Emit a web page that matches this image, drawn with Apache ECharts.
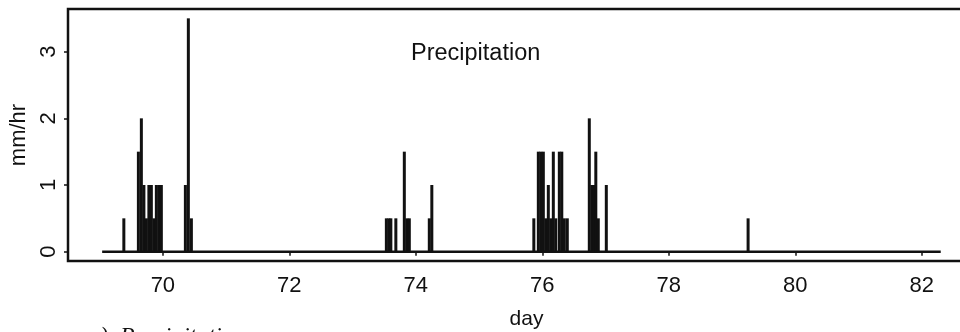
<!DOCTYPE html>
<html>
<head>
<meta charset="utf-8">
<script src="https://cdn.jsdelivr.net/npm/echarts@6/dist/echarts.min.js"></script>
<style>
  html, body { margin: 0; padding: 0; background: #fff; overflow: hidden; }
  #chart { width: 960px; height: 332px; }
</style>
</head>
<body>
<div id="chart"></div>
<script>
// Hourly precipitation rate (mm/hr) against day of year; only non-zero hours listed.
const rainDay = [
  69.383, 69.613, 69.660, 69.700, 69.739, 69.779, 69.818, 69.858, 69.897, 69.937, 69.976,
  70.356, 70.403, 70.451,
  73.534, 73.573, 73.605, 73.684, 73.818, 73.858, 73.897, 74.213, 74.253,
  75.866, 75.937, 75.976, 76.016, 76.055, 76.095, 76.134, 76.174, 76.213, 76.269, 76.308, 76.348, 76.395,
  76.743, 76.783, 76.814, 76.846, 76.885, 77.012,
  79.254
];
const rainRate = [
  0.5, 1.5, 2.0, 1.0, 0.5, 1.0, 1.0, 0.5, 1.0, 1.0, 1.0,
  1.0, 3.5, 0.5,
  0.5, 0.5, 0.5, 0.5, 1.5, 0.5, 0.5, 0.5, 1.0,
  0.5, 1.5, 1.5, 1.5, 0.5, 1.0, 0.5, 1.5, 0.5, 1.5, 1.5, 0.5, 0.5,
  2.0, 1.0, 1.0, 1.5, 0.5, 1.0,
  0.5
];
// Record span: the zero line runs the full length of the series.
const recordStart = 69.04;
const recordEnd = 82.3;

const dayTicks = [70, 72, 74, 76, 78, 80, 82];
const rateTicks = [0, 1, 2, 3];
const dayRange = [68.5, 83.0];
const rateRange = [-0.14, 3.64];

const ink = '#111';
const sans = '"Liberation Sans", Arial, Helvetica, sans-serif';

const chart = echarts.init(document.getElementById('chart'), null, { renderer: 'canvas' });

chart.setOption({
  backgroundColor: '#fff',
  animation: false,
  grid: {
    left: 68, top: 9, width: 917, height: 252,
    outerBoundsMode: 'none',
    containLabel: false,
    show: true, borderColor: ink, borderWidth: 2.5, backgroundColor: 'transparent'
  },
  title: {
    text: 'Precipitation',
    left: 406, top: 37,
    textStyle: { fontFamily: sans, fontSize: 23.5, fontWeight: 'normal', color: ink }
  },
  xAxis: {
    type: 'value',
    min: dayRange[0], max: dayRange[1],
    name: 'day',
    nameLocation: 'middle',
    nameGap: 48,
    nameTextStyle: { fontFamily: sans, fontSize: 21, color: ink },
    axisLine: { show: false },
    splitLine: { show: false },
    axisTick: { show: true, length: 4, customValues: dayTicks, lineStyle: { color: ink, width: 1.5 } },
    axisLabel: { customValues: dayTicks, margin: 14, fontFamily: sans, fontSize: 22, color: ink }
  },
  yAxis: {
    type: 'value',
    min: rateRange[0], max: rateRange[1],
    name: 'mm/hr',
    nameLocation: 'middle',
    nameRotate: 90,
    nameGap: 35,
    nameTextStyle: { fontFamily: sans, fontSize: 22, color: ink },
    axisLine: { show: false },
    splitLine: { show: false },
    axisTick: { show: true, length: 4, customValues: rateTicks, lineStyle: { color: ink, width: 1.5 } },
    axisLabel: { customValues: rateTicks, rotate: 90, margin: 8, fontFamily: sans, fontSize: 22, color: ink }
  },
  graphic: [{
    type: 'text',
    left: 88, top: 325,
    style: {
      text: 'a)  Precipitation',
      font: 'italic 24px "Liberation Serif", "Times New Roman", serif',
      fill: ink
    }
  }],
  series: [
    {
      type: 'line',
      data: [[recordStart, 0], [recordEnd, 0]],
      symbol: 'none',
      lineStyle: { color: ink, width: 2.5 },
      z: 2
    },
    {
      type: 'bar',
      data: rainDay.map((d, i) => [d, rainRate[i]]),
      barWidth: 3,
      itemStyle: { color: ink },
      z: 3
    }
  ]
});
</script>
</body>
</html>
